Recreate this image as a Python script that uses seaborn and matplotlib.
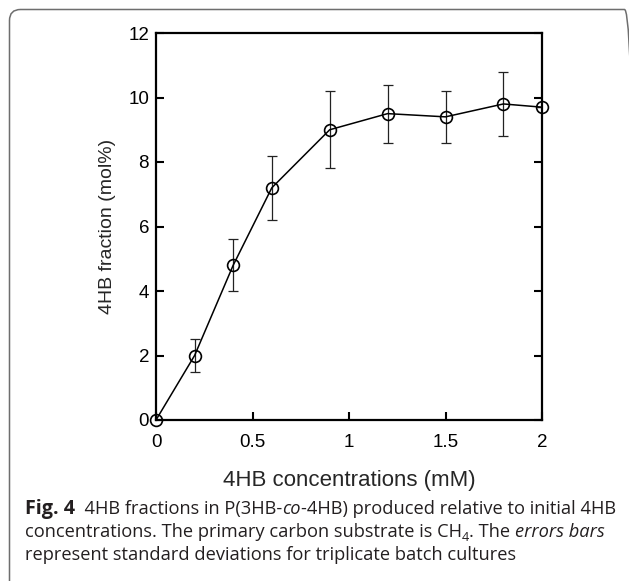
import matplotlib
matplotlib.use("Agg")
import matplotlib.pyplot as plt
from matplotlib.patches import FancyBboxPatch
from matplotlib.transforms import IdentityTransform
import seaborn as sns
import pandas as pd

# data
conc = [0, 0.2, 0.4, 0.6, 0.9, 1.2, 1.5, 1.8, 2.0]
frac = [0, 2.0, 4.8, 7.2, 9.0, 9.5, 9.4, 9.8, 9.7]
err = [0, 0.5, 0.8, 1.0, 1.2, 0.9, 0.8, 1.0, 0]

xticks = [0, 0.5, 1, 1.5, 2]
xticklabels = ["0", "0.5", "1", "1.5", "2"]
yticks = [0, 2, 4, 6, 8, 10, 12]

df = pd.DataFrame({"conc": conc, "frac": frac, "err": err})

sns.set_style("ticks")
plt.rcParams["font.family"] = ["Liberation Sans", "DejaVu Sans"]

fig = plt.figure(figsize=(6.29, 5.81), dpi=100)
W, H = 629, 581
ax = fig.add_axes([156 / W, 1 - 420 / H, (542 - 156) / W, (420 - 33) / H])

ax.errorbar(df["conc"], df["frac"], yerr=df["err"], fmt="none",
            ecolor="#222222", elinewidth=0.9, capsize=3.5, capthick=0.9, zorder=2)
sns.lineplot(data=df, x="conc", y="frac", ax=ax, color="black", linewidth=1.1,
             marker="o", markersize=8.5, markerfacecolor="none",
             markeredgecolor="black", markeredgewidth=1.2, zorder=3, clip_on=False)

ax.set_xlim(0, 2)
ax.set_ylim(0, 12)
ax.set_xticks(xticks)
ax.set_xticklabels(xticklabels)
ax.set_yticks(yticks)
ax.tick_params(direction="in", length=6, width=1.5, labelsize=13.5,
               colors="black", right=True, top=False)
ax.tick_params(axis="x", pad=10)
ax.tick_params(axis="y", pad=5)
for s in ax.spines.values():
    s.set_linewidth(1.6)
    s.set_color("black")
ax.set_xlabel("4HB concentrations (mM)", fontsize=16, labelpad=14)
ax.set_ylabel("4HB fraction (mol%)", fontsize=14, labelpad=9)

# rounded frame, its right and bottom edges run off the picture
frame = FancyBboxPatch((9.5, -12), 626, 583.5,
                       boxstyle="round,pad=0,rounding_size=11",
                       transform=IdentityTransform(), fill=False,
                       edgecolor="#6e6e6e", linewidth=1.1)
fig.patches.append(frame)

# caption, drawn piece by piece
renderer = fig.canvas.get_renderer()
cap_font = ["Open Sans", "DejaVu Sans"]
cap_color = "#231f20"

line1 = [("Fig. 4", "bold", "normal", 0, 1.08),
         ("  4HB fractions in P(3HB-", "normal", "normal", 0, 1),
         ("co", "normal", "italic", 0, 1),
         ("-4HB) produced relative to initial 4HB", "normal", "normal", 0, 1)]
line2 = [("concentrations. The primary carbon substrate is CH", "normal", "normal", 0, 1),
         ("4", "normal", "normal", -4, 0.7),
         (". The ", "normal", "normal", 0, 1),
         ("errors bars", "normal", "italic", 0, 1)]
line3 = [("represent standard deviations for triplicate batch cultures", "normal", "normal", 0, 1)]


def put_line(pieces, x0, y, size):
    x = x0
    for txt, weight, style, dy, scale in pieces:
        t = fig.text(x / W, 1 - (y - dy) / H, txt, fontsize=size * scale,
                     family=cap_font, weight=weight, style=style,
                     color=cap_color, va="baseline", ha="left")
        x += t.get_window_extent(renderer).width
    return x


# fit first caption line to its width in the reference (25 -> 613 px)
probe = fig.text(0, 0, "", fontsize=12)
base = 12.0
end = put_line(line1, 25, -100, base)
for t in fig.texts[1:]:
    t.remove()
probe.remove()
cap_size = base * 588 / (end - 25)

put_line(line1, 25, 514, cap_size)
put_line(line2, 25, 537, cap_size)
put_line(line3, 25, 560, cap_size)

fig.savefig("out.png", dpi=100)
